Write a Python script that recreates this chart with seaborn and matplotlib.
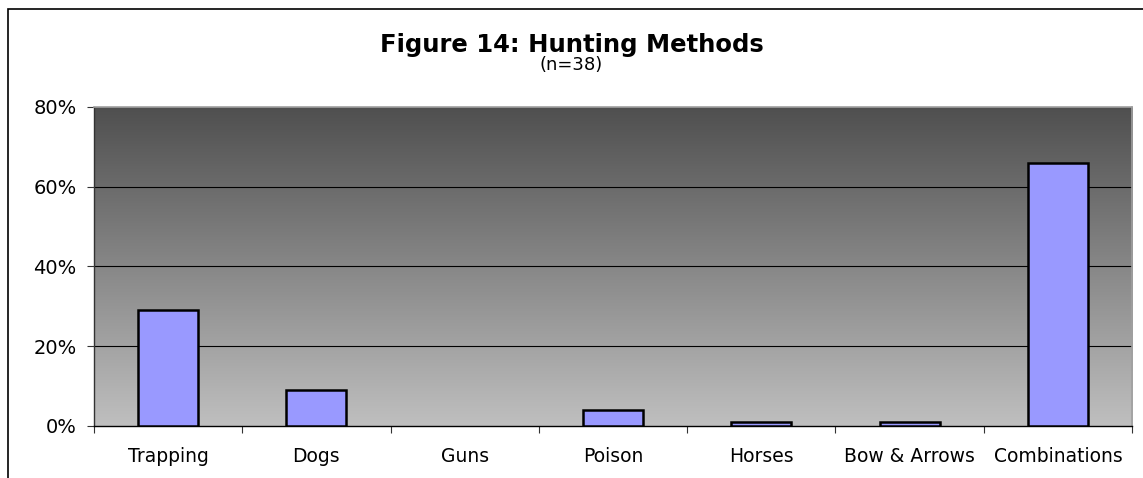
import numpy as np
import pandas as pd
import matplotlib.pyplot as plt
import matplotlib.ticker as mtick
from matplotlib.patches import Rectangle
from matplotlib.colors import LinearSegmentedColormap
import seaborn as sns

sns.set_style("white")
plt.rcParams['font.family'] = ['DejaVu Sans']
plt.rcParams['text.color'] = 'black'
plt.rcParams['xtick.color'] = 'black'
plt.rcParams['ytick.color'] = 'black'

METHODS = ['Trapping', 'Dogs', 'Guns', 'Poison', 'Horses',
           'Bow & Arrows', 'Combinations']
SHARES = [0.29, 0.09, 0.0, 0.04, 0.01, 0.01, 0.66]
Y_TICKS = [0.0, 0.2, 0.4, 0.6, 0.8]

df = pd.DataFrame({'method': METHODS, 'share': SHARES})

fig = plt.figure(figsize=(11.43, 4.78), dpi=100)
ax = fig.add_axes([0.0822, 0.1088, 0.9082, 0.6674])

# gray gradient background of the plot area
grad = LinearSegmentedColormap.from_list('bg', ['#bfbfbf', '#4f4f4f'])
ax.imshow(np.linspace(0, 1, 256).reshape(-1, 1), cmap=grad, aspect='auto',
          origin='lower', extent=[0, 1, 0, 1], transform=ax.transAxes,
          zorder=0)

sns.barplot(data=df, x='method', y='share', color='#9999ff', width=0.405,
            edgecolor='black', linewidth=1.8, saturation=1, ax=ax, zorder=3)
# empty categories get no mark at all
for bar in ax.patches:
    if bar.get_height() == 0:
        bar.set_visible(False)

ax.set_xlim(-0.5, len(METHODS) - 0.5)
ax.set_ylim(0, 0.8)
ax.set_yticks(Y_TICKS)
ax.yaxis.set_major_formatter(mtick.PercentFormatter(1.0, decimals=0))
for y in Y_TICKS[1:-1]:
    ax.axhline(y, color='black', lw=0.8, zorder=2)

ax.set_xlabel('')
ax.set_ylabel('')
ax.set_xticks(np.arange(-0.5, len(METHODS)), minor=True)
ax.tick_params(axis='x', which='major', length=0, pad=15, labelsize=13.5)
ax.tick_params(axis='x', which='minor', length=5, width=0.8, color='#333333',
               direction='out', bottom=True)
ax.tick_params(axis='y', length=5, width=0.8, color='#333333', pad=7.5,
               labelsize=14, left=True)

for side in ['top', 'right']:
    ax.spines[side].set_color('#a0a0a0')
    ax.spines[side].set_linewidth(1.2)
ax.spines['left'].set_color('#333333')
ax.spines['bottom'].set_color('black')
for side in ['left', 'bottom']:
    ax.spines[side].set_linewidth(1.0)

fig.text(0.5, 0.905, 'Figure 14: Hunting Methods', ha='center', va='center',
         fontsize=17.5, fontweight='bold')
fig.text(0.5, 0.864, '(n=38)', ha='center', va='center', fontsize=13)

# outer chart border (only top and left edges show in the frame)
fig.patches.append(Rectangle((8 / 1143, -0.5), 2, 0.5 + (1 - 9 / 478),
                             transform=fig.transFigure, fill=False,
                             edgecolor='black', lw=1.2))

fig.savefig('out.png', dpi=100)
